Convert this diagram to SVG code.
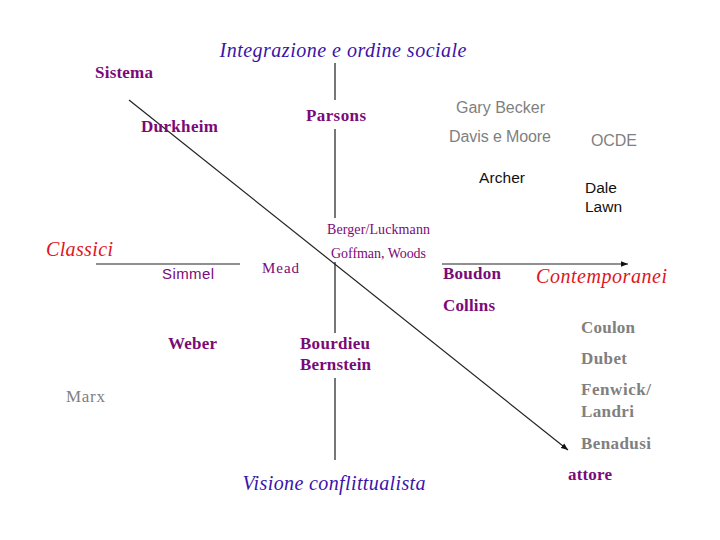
<svg xmlns="http://www.w3.org/2000/svg" width="720" height="540" viewBox="0 0 720 540">
<style>
.ti{font-family:"Liberation Serif",serif;font-style:italic;font-size:20px}
.bl{fill:#3a14a8}
.rd{fill:#e0141e}
.bs{font-family:"Liberation Serif",serif;font-weight:bold;font-size:17px;fill:#7a0a78}
.rs{font-family:"Liberation Serif",serif;font-size:14px;fill:#7a0a78}
.gs{font-family:"Liberation Sans",sans-serif;font-size:16px;fill:#7f7f7f}
.ks{font-family:"Liberation Sans",sans-serif;font-size:15.5px;fill:#111}
.gb{font-family:"Liberation Serif",serif;font-weight:bold;font-size:17px;fill:#808080}
.ln{stroke:#222;stroke-width:1.2;fill:none}
.ax{stroke:#555;stroke-width:1.6;fill:none}
</style>
<defs>
<marker id="ah" viewBox="0 0 10 10" refX="10" refY="5" markerWidth="7" markerHeight="7" orient="auto" markerUnits="userSpaceOnUse">
<path d="M0,1 L10,5 L0,9 Z" fill="#111"/>
</marker>
</defs>
<rect width="720" height="540" fill="#fff"/>
<g id="connectors">
<line class="ax" x1="335" y1="63" x2="335" y2="100"/>
<line class="ax" x1="335" y1="129" x2="335" y2="218"/>
<line class="ax" x1="335" y1="262" x2="335" y2="333"/>
<line class="ax" x1="335" y1="378" x2="335" y2="460"/>
<line class="ln" x1="96" y1="264" x2="240" y2="264"/>
<line class="ln" x1="442" y1="264" x2="628" y2="264" marker-end="url(#ah)"/>
<line class="ln" x1="129" y1="100" x2="568" y2="450" marker-end="url(#ah)"/>
</g>
<g id="integrazione"><text class="ti bl" x="343" y="57" text-anchor="middle" textLength="247">Integrazione e ordine sociale</text></g>
<g id="visione"><text class="ti bl" x="334" y="490" text-anchor="middle" textLength="183">Visione conflittualista</text></g>
<g id="classici"><text class="ti rd" x="46" y="256" textLength="67">Classici</text></g>
<g id="contemporanei"><text class="ti rd" x="536" y="283" textLength="131">Contemporanei</text></g>
<g id="sistema"><text class="bs" x="95" y="78" textLength="58">Sistema</text></g>
<g id="durkheim"><text class="bs" x="141" y="132" textLength="77">Durkheim</text></g>
<g id="parsons"><text class="bs" x="306" y="121" textLength="60">Parsons</text></g>
<g id="becker"><text class="gs" x="456" y="113" textLength="89">Gary Becker</text></g>
<g id="davis"><text class="gs" x="449" y="142" textLength="102">Davis e Moore</text></g>
<g id="ocde"><text class="gs" x="591" y="146" textLength="46">OCDE</text></g>
<g id="archer"><text class="ks" x="479" y="183" textLength="46">Archer</text></g>
<g id="dalelawn"><text class="ks" x="585" y="193">Dale</text><text class="ks" x="585" y="212">Lawn</text></g>
<g id="simmel"><text class="gs" x="162" y="279" style="fill:#7a0a78;font-size:15px" textLength="52">Simmel</text></g>
<g id="mead"><text class="rs" x="262" y="273" style="font-size:15px" textLength="37">Mead</text></g>
<g id="berger"><text class="rs" x="327" y="234" textLength="103">Berger/Luckmann</text></g>
<g id="goffman"><text class="rs" x="331" y="258" textLength="95">Goffman, Woods</text></g>
<g id="boudon"><text class="bs" x="443" y="279" textLength="58">Boudon</text></g>
<g id="collins"><text class="bs" x="443" y="311" textLength="52">Collins</text></g>
<g id="coulon"><text class="gb" x="581" y="333" textLength="54">Coulon</text></g>
<g id="dubet"><text class="gb" x="581" y="364" textLength="46">Dubet</text></g>
<g id="fenwick"><text class="gb" x="581" y="395" textLength="70">Fenwick/</text><text class="gb" x="581" y="417" textLength="53">Landri</text></g>
<g id="benadusi"><text class="gb" x="581" y="449" textLength="70">Benadusi</text></g>
<g id="attore"><text class="bs" x="568" y="480" textLength="44">attore</text></g>
<g id="weber"><text class="bs" x="168" y="349" textLength="49">Weber</text></g>
<g id="bourdieu"><text class="bs" x="300" y="349" textLength="70">Bourdieu</text><text class="bs" x="300" y="370" textLength="71">Bernstein</text></g>
<g id="marx"><text class="rs" x="66" y="402" style="fill:#808080;font-size:17px" textLength="39">Marx</text></g>
</svg>
